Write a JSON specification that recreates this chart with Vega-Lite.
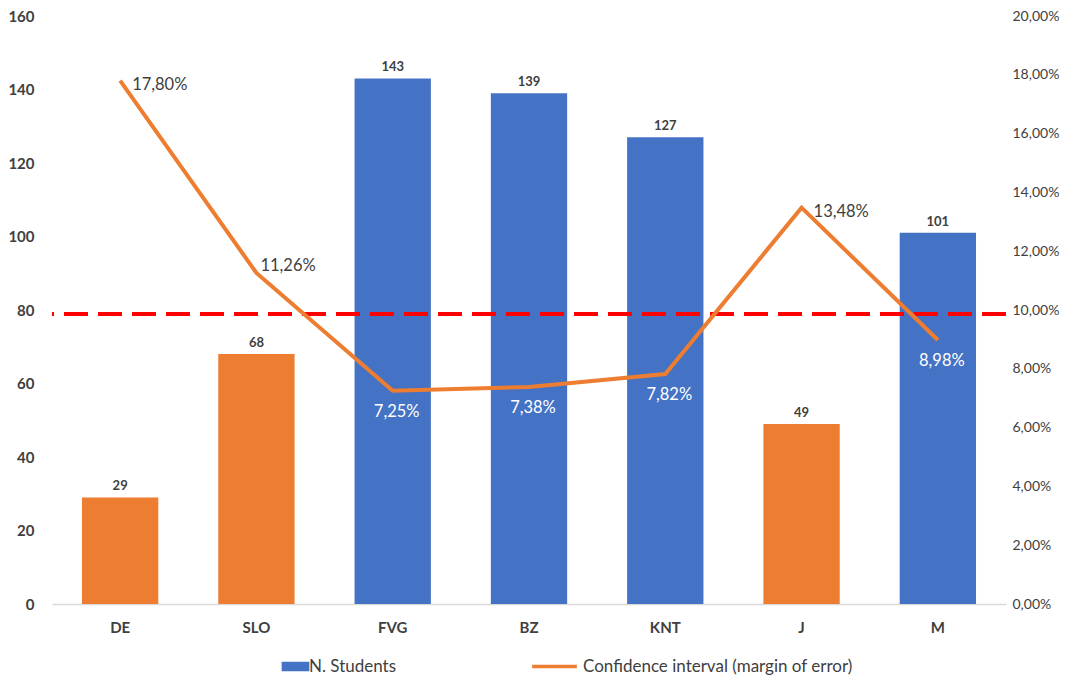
{
  "$schema": "https://vega.github.io/schema/vega-lite/v6.json",
  "width": 954,
  "height": 588,
  "autosize": "none",
  "padding": {"left": 52, "top": 16, "right": 78, "bottom": 80},
  "background": "white",
  "data": {
    "values": [
      {"region": "DE", "students": 29, "margin": 0.178},
      {"region": "SLO", "students": 68, "margin": 0.1126},
      {"region": "FVG", "students": 143, "margin": 0.0725},
      {"region": "BZ", "students": 139, "margin": 0.0738},
      {"region": "KNT", "students": 127, "margin": 0.0782},
      {"region": "J", "students": 49, "margin": 0.1348},
      {"region": "M", "students": 101, "margin": 0.0898}
    ]
  },
  "layer": [
    {
      "encoding": {
        "x": {
          "field": "region",
          "type": "nominal",
          "sort": null,
          "scale": {"paddingInner": 0.44, "paddingOuter": 0.22},
          "axis": {
            "title": null,
            "labelAngle": 0,
            "labelFontWeight": "bold",
            "labelFontSize": 15,
            "labelColor": "#404040",
            "labelPadding": 16,
            "ticks": false,
            "domainColor": "#d9d9d9",
            "domainWidth": 1.5
          }
        },
        "y": {
          "field": "students",
          "type": "quantitative",
          "scale": {"domain": [0, 160]},
          "axis": {
            "title": null,
            "values": [0, 20, 40, 60, 80, 100, 120, 140, 160],
            "grid": false,
            "domain": false,
            "ticks": false,
            "labelFontWeight": "bold",
            "labelFontSize": 15,
            "labelColor": "#404040",
            "labelPadding": 18
          }
        }
      },
      "layer": [
        {
          "mark": {"type": "bar"},
          "encoding": {
            "fill": {
              "condition": {"test": "datum.margin > 0.1", "value": "#ED7D31"},
              "datum": "N. Students",
              "scale": {"domain": ["N. Students"], "range": ["#4472C4"]},
              "legend": {
                "title": null,
                "orient": "none",
                "legendX": 234,
                "legendY": 641,
                "symbolType": "M-1.6,-0.55H1.6V0.55H-1.6Z",
                "symbolSize": 300,
                "labelFontSize": 17,
                "labelColor": "#404040",
                "labelLimit": 400
              }
            }
          }
        },
        {
          "mark": {"type": "text", "dy": -11, "fontWeight": "bold", "fontSize": 13, "color": "#404040"},
          "encoding": {"text": {"field": "students", "type": "quantitative"}}
        }
      ]
    },
    {
      "mark": {"type": "rule", "color": "#FF0000", "strokeWidth": 3.5, "strokeDash": [24, 10]},
      "encoding": {
        "y": {"datum": 79, "type": "quantitative", "scale": {"domain": [0, 160]}, "axis": null}
      }
    },
    {
      "encoding": {
        "x": {"field": "region", "type": "nominal", "sort": null},
        "y": {
          "field": "margin",
          "type": "quantitative",
          "scale": {"domain": [0, 0.2]},
          "axis": {
            "title": null,
            "orient": "right",
            "format": ".2%",
            "values": [0, 0.02, 0.04, 0.06, 0.08, 0.1, 0.12, 0.14, 0.16, 0.18, 0.2],
            "grid": false,
            "domain": false,
            "ticks": false,
            "labelFontSize": 14,
            "labelColor": "#404040",
            "labelPadding": 6
          }
        }
      },
      "layer": [
        {
          "mark": {"type": "line", "strokeWidth": 4, "stroke": "#ED7D31"},
          "encoding": {
            "stroke": {
              "datum": "Confidence interval (margin of error)",
              "scale": {"domain": ["Confidence interval (margin of error)"], "range": ["#ED7D31"]},
              "legend": {
                "title": null,
                "orient": "none",
                "legendX": 478,
                "legendY": 626,
                "symbolType": "stroke",
                "symbolSize": 2000,
                "symbolStrokeWidth": 3.5,
                "labelFontSize": 17,
                "labelColor": "#404040",
                "labelLimit": 500
              }
            }
          }
        },
        {
          "transform": [{"filter": "datum.region == 'DE' || datum.region == 'J'"}],
          "mark": {"type": "text", "align": "left", "dx": 12, "dy": 4, "fontSize": 16.5, "color": "#404040"},
          "encoding": {"text": {"field": "margin", "type": "quantitative", "format": ".2%"}}
        },
        {
          "transform": [{"filter": "datum.region == 'SLO'"}],
          "mark": {"type": "text", "align": "left", "dx": 4, "dy": -7, "fontSize": 16.5, "color": "#404040"},
          "encoding": {"text": {"field": "margin", "type": "quantitative", "format": ".2%"}}
        },
        {
          "transform": [{"filter": "datum.margin < 0.1"}],
          "mark": {"type": "text", "align": "center", "dx": 4, "dy": 21, "fontSize": 16.5, "color": "white"},
          "encoding": {"text": {"field": "margin", "type": "quantitative", "format": ".2%"}}
        }
      ]
    }
  ],
  "resolve": {"scale": {"y": "independent"}},
  "config": {
    "font": "Lato",
    "view": {"stroke": null},
    "locale": {
      "number": {"decimal": ",", "thousands": ".", "grouping": [3], "currency": ["", " €"]}
    }
  }
}
